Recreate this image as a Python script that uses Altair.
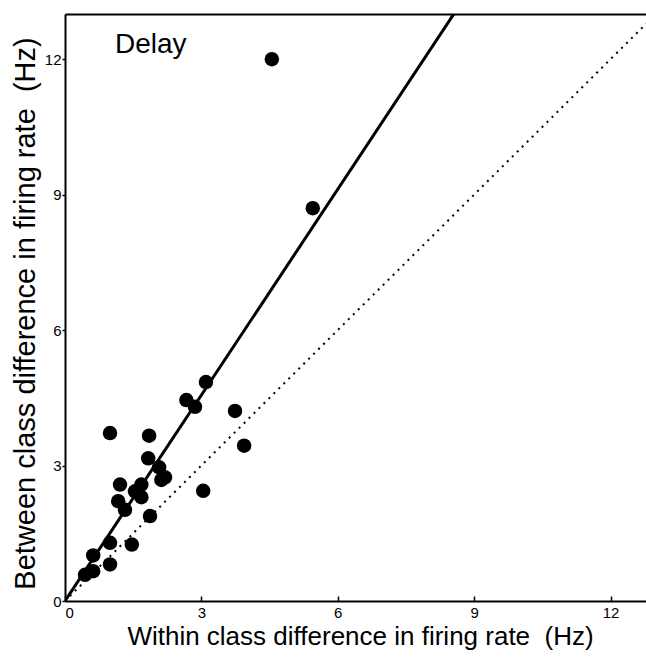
import altair as alt
import pandas as pd

# Per-neuron firing-rate differences (Hz) during the delay period
within_diff = [4.55, 5.45, 3.10, 2.67, 2.86, 3.74, 3.94, 0.99, 1.85, 1.83,
               2.07, 2.20, 2.12, 1.21, 1.68, 1.54, 1.68, 1.17, 1.32, 1.87,
               3.04, 0.99, 1.47, 0.62, 0.99, 0.44, 0.62]
between_diff = [12.0, 8.7, 4.85, 4.45, 4.30, 4.21, 3.44, 3.72, 3.66, 3.16,
                2.96, 2.74, 2.68, 2.58, 2.58, 2.43, 2.30, 2.21, 2.02, 1.88,
                2.44, 1.29, 1.25, 1.01, 0.81, 0.58, 0.66]

# Regression through the origin and the identity line
fit_slope = 1.52
line_x = [0.0, 13.0]
tick_values = [0, 3, 6, 9, 12]

x_max = 12.78
y_max = 13.0

pts = pd.DataFrame({"within": within_diff, "between": between_diff})
fit = pd.DataFrame({"x": line_x, "y": [fit_slope * v for v in line_x]})
ident = pd.DataFrame({"x": line_x, "y": line_x})

FONT = "Liberation Sans"
NBSP = "\u00a0"
xscale = alt.Scale(domain=[0, x_max], nice=False, zero=True)
yscale = alt.Scale(domain=[0, y_max], nice=False, zero=True)

x_main_axis = alt.Axis(
    values=tick_values, format="d", grid=False, orient="bottom",
    domain=True, domainColor="black", domainWidth=2,
    ticks=True, tickSize=0, labelPadding=4,
    labelFont=FONT, labelFontSize=15, labelColor="black",
    title="Within class difference in firing rate" + NBSP + NBSP + "(Hz)",
    titleFont=FONT, titleFontSize=26, titleFontWeight="normal", titleColor="black",
    titleBaseline="alphabetic", titleY=43, titleX=295,
)
# inward-pointing tick marks on the x axis
x_tick_axis = alt.Axis(
    values=tick_values, grid=False, orient="bottom", offset=-5,
    domain=False, labels=False, ticks=True, tickSize=5, tickWidth=1.5,
    tickColor="black", title=None,
)
x_top_axis = alt.Axis(
    orient="top", grid=False, domain=True, domainColor="black", domainWidth=2,
    labels=False, ticks=False, title=None,
)
y_axis = alt.Axis(
    values=tick_values, format="d", grid=False, orient="left",
    domain=True, domainColor="black", domainWidth=2,
    ticks=True, tickSize=3, tickWidth=1.5, tickColor="black", labelPadding=1,
    labelFont=FONT, labelFontSize=15, labelColor="black",
    title="Between class difference in firing rate" + NBSP + NBSP + "(Hz)",
    titleFont=FONT, titleFontSize=29, titleFontWeight="normal", titleColor="black",
    titleAngle=270, titleBaseline="alphabetic", titleAlign="center",
    titleX=-31, titleY=299,
)

points = alt.Chart(pts).mark_circle(size=210, color="black", opacity=1).encode(
    x=alt.X("within:Q", scale=xscale, axis=x_main_axis),
    y=alt.Y("between:Q", scale=yscale, axis=y_axis),
)

fit_line = alt.Chart(fit).mark_line(color="black", strokeWidth=3, clip=True).encode(
    x=alt.X("x:Q", scale=xscale, axis=x_top_axis),
    y=alt.Y("y:Q", scale=yscale, axis=y_axis),
)

ident_line = alt.Chart(ident).mark_line(
    color="black", strokeWidth=2, strokeDash=[2, 5], clip=True
).encode(
    x=alt.X("x:Q", scale=xscale, axis=x_tick_axis),
    y=alt.Y("y:Q", scale=yscale, axis=y_axis),
)

label = alt.Chart(pd.DataFrame({"t": ["Delay"]})).mark_text(
    font=FONT, fontSize=28, color="black", align="left", baseline="alphabetic"
).encode(x=alt.value(50), y=alt.value(39), text="t:N")

chart = (
    alt.layer(ident_line, fit_line, points, label)
    .resolve_axis(x="independent", y="shared")
    .properties(
        width=581, height=587,
        padding={"left": 65, "top": 14, "right": 0, "bottom": 57},
        autosize=alt.AutoSizeParams(type="none"),
        background="white",
    )
    .configure_view(strokeWidth=0, strokeOpacity=0)
)

chart.save("out.html", embed_options={"renderer": "svg", "actions": False})
